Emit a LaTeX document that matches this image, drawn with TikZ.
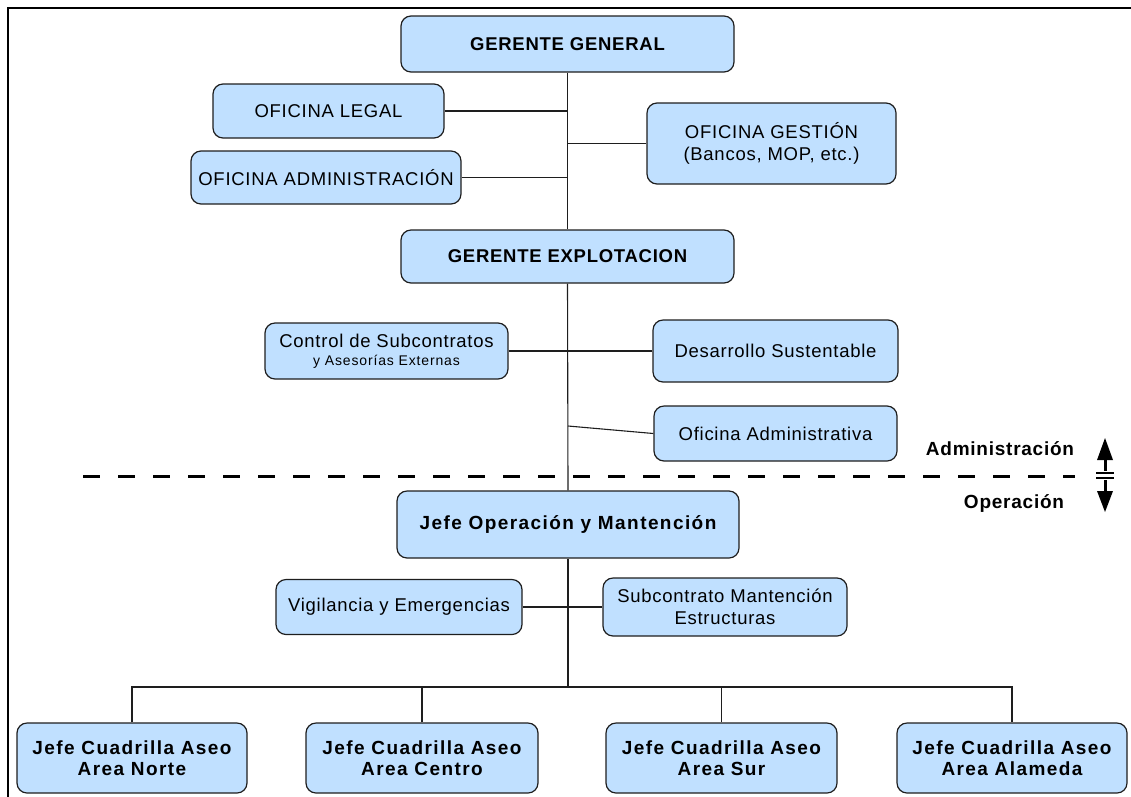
\documentclass[tikz,border=0pt]{standalone}
\usepackage{fontspec}
\setmainfont{Liberation Sans}[LetterSpace=4]
\usetikzlibrary{arrows.meta}
\definecolor{boxblue}{RGB}{192,224,255}
\definecolor{edge}{RGB}{30,30,30}
\begin{document}
\begin{tikzpicture}[x=1pt,y=-1pt,
  box/.style={draw=edge, line width=1.2pt, fill=boxblue, rounded corners=10pt,
    inner sep=0pt, align=center, font=\fontsize{18.5}{22}\selectfont},
  boldbox/.style={box, font=\fontsize{18.5}{22}\selectfont\bfseries},
  jefebox/.style={box, font=\fontsize{19}{21}\selectfont\bfseries\addfontfeature{LetterSpace=7.5}},
  conn/.style={draw=edge, line width=1.1pt},
  sidelabel/.style={font=\fontsize{19}{22}\selectfont\bfseries}]
\useasboundingbox (0,0) rectangle (1131,796);
% frame
\draw[line width=2.5pt] (8,800) -- (8,8) -- (1140,8);

% nodes
\node[boldbox, minimum width=333, minimum height=56] (gg) at (567.5,44) {GERENTE GENERAL};
\node[box, minimum width=231, minimum height=54] (legal) at (328.5,111) {OFICINA LEGAL};
\node[box, minimum width=270, minimum height=53] (admin) at (326,177.5) {OFICINA ADMINISTRACIÓN};
\node[box, minimum width=249, minimum height=81] (gest) at (771.5,143.5) {OFICINA GESTIÓN\\(Bancos, MOP, etc.)};
\node[boldbox, minimum width=333, minimum height=53] (ge) at (567.5,256.5) {GERENTE EXPLOTACION};
\node[box, minimum width=243, minimum height=56] (ctrl) at (386.5,351) {Control de Subcontratos\\[-4pt]{\fontsize{14}{16}\selectfont\addfontfeature{LetterSpace=6}y Asesorías Externas}};
\node[box, minimum width=245, minimum height=62] (desa) at (775.5,351) {Desarrollo Sustentable};
\node[box, minimum width=243, minimum height=55] (ofad) at (775.5,433.5) {Oficina Administrativa};
\node[jefebox, minimum width=342, minimum height=67] (jo) at (568,524.5) {Jefe Operación y Mantención};
\node[box, minimum width=246, minimum height=55] (vig) at (399,607) {Vigilancia y Emergencias};
\node[box, minimum width=244, minimum height=58] (subc) at (725,607) {Subcontrato Mantención\\Estructuras};
\node[jefebox, minimum width=230, minimum height=70] (norte) at (132,758) {Jefe Cuadrilla Aseo\\Area Norte};
\node[jefebox, minimum width=232, minimum height=70] (centro) at (422,758) {Jefe Cuadrilla Aseo\\Area Centro};
\node[jefebox, minimum width=231, minimum height=70] (sur) at (721.5,758) {Jefe Cuadrilla Aseo\\Area Sur};
\node[jefebox, minimum width=230, minimum height=70] (alam) at (1012,758) {Jefe Cuadrilla Aseo\\Area Alameda};

\node[sidelabel] (admlbl) at (1000,449) {Administración};
\node[sidelabel] (opelbl) at (1014,503) {Operación};

% connectors
\coordinate (spine) at (568,0);
\coordinate (oaj) at (568,426);
\coordinate (bus) at (568,687);
\draw[conn] (gg.south) -- (ge.north);
\draw[conn] (ge.south) -- (jo.north);
\draw[conn] (jo.south) -- (bus);
\draw[conn] (legal.east) -- (spine |- legal.east);
\draw[conn] (admin.east) -- (spine |- admin.east);
\draw[conn] (gest.west) -- (spine |- gest.west);
\draw[conn] (ctrl.east) -- (desa.west);
\draw[conn] (oaj) -- (ofad.west);
\draw[conn] (vig.east) -- (subc.west);
\draw[conn] (norte.north) -- (norte.north |- bus) -- (alam.north |- bus) -- (alam.north);
\draw[conn] (centro.north) -- (centro.north |- bus);
\draw[conn] (sur.north) -- (sur.north |- bus);

% separator
\draw[line width=3pt, dash pattern=on 17pt off 18pt] (83,476) -- (1075,476);
% up/down arrow symbol
\fill (1105,438) -- (1113,460) -- (1097,460) -- cycle;
\draw[line width=3pt] (1105,459) -- (1105,471);
\draw[line width=2.5pt] (1096,473) -- (1114,473);
\draw[line width=2.5pt] (1096,478) -- (1114,478);
\draw[line width=3pt] (1105,480) -- (1105,493);
\fill (1105,512) -- (1113,491) -- (1097,491) -- cycle;
\end{tikzpicture}
\end{document}
